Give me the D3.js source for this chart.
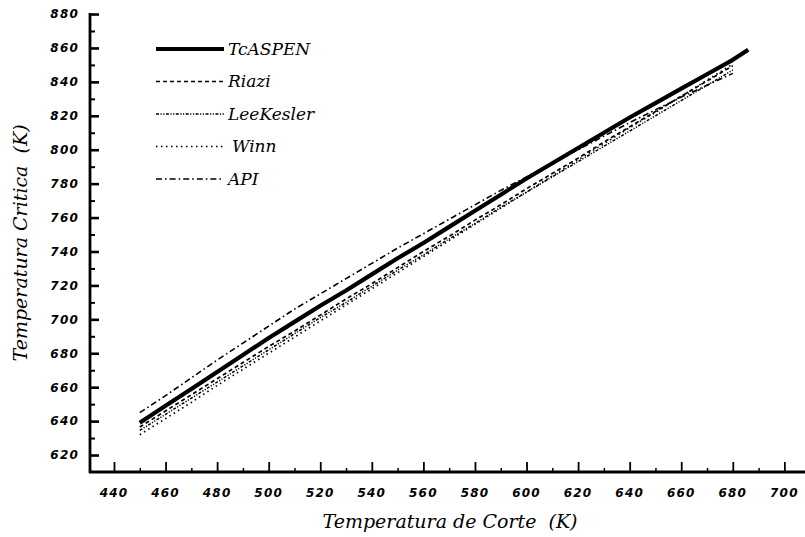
<!DOCTYPE html>
<html>
<head>
<meta charset="utf-8">
<script src="https://cdn.jsdelivr.net/npm/d3@7"></script>
<style>
  html, body { margin: 0; padding: 0; background: #fff; }
  svg { display: block; }
  .tick-label { font-family: "DejaVu Sans", sans-serif; font-weight: bold; font-style: italic; font-size: 12px; letter-spacing: 1.2px; }
  .title { font-family: "DejaVu Serif", serif; font-style: italic; font-size: 19px; white-space: pre; }
  .legend-text { font-family: "DejaVu Serif", serif; font-style: italic; font-size: 17px; }
</style>
</head>
<body>
<svg id="chart" width="805" height="537"></svg>
<script>
// Cut point temperature (K)
const cutTemps = [450, 460, 470, 480, 490, 500, 510, 520, 530, 540, 550, 560,
                  570, 580, 590, 600, 610, 620, 630, 640, 650, 660, 670, 680];
const aspenTemps = cutTemps.concat([686]);

// Critical temperature (K) by method
const tcAspen = [639, 649, 659, 669, 679, 689, 698.5, 708, 717, 726.5, 736, 745,
                 754.5, 764, 773.5, 783, 792, 801, 810, 819, 827.5, 836, 844.5, 853, 859];
const riazi = [636.5, 646, 655.5, 665, 674.5, 684, 693, 702.5, 712, 721, 730.5, 740,
               749, 758.5, 767.5, 777, 786, 795, 804.5, 813.5, 822.5, 831.5, 840.5, 849.5];
const leeKesler = [634.5, 644, 653.5, 663, 672.5, 682, 691.5, 701, 710, 719.5, 729, 738,
                   747.5, 756.5, 766, 775, 784, 793, 802, 811, 820, 829, 838, 847];
const winn = [632, 641.5, 651, 661, 670.5, 680, 689.5, 699, 708.5, 718, 727.5, 737,
              746.5, 756, 765.5, 775, 784.5, 794, 803.5, 813, 822, 831.5, 841, 850.5];
const api = [645, 655, 665.5, 676, 686, 696, 706, 715, 724, 733, 742, 750.5,
             759, 767.5, 776, 784, 792, 800, 808, 816, 823.5, 831, 838, 845];

const xTicks = [440, 460, 480, 500, 520, 540, 560, 580, 600, 620, 640, 660, 680, 700];
const yTicks = [620, 640, 660, 680, 700, 720, 740, 760, 780, 800, 820, 840, 860, 880];

const seriesNames = ["TcASPEN", "Riazi", "LeeKesler", "Winn", "API"];

const svg = d3.select("#chart");

const x = d3.scaleLinear().domain([430.7, 708]).range([90, 805]);
const y = d3.scaleLinear().domain([610, 880.6]).range([472, 13]);

const series = [
  { name: seriesNames[0], xs: aspenTemps, ys: tcAspen, width: 4.2, dash: null },
  { name: seriesNames[1], xs: cutTemps, ys: riazi, width: 1.7, dash: "4,3" },
  { name: seriesNames[2], xs: cutTemps, ys: leeKesler, width: 1.5, dash: "3,1.5,1.2,1.5,1.2,1.5" },
  { name: seriesNames[3], xs: cutTemps, ys: winn, width: 1.7, dash: "1.5,3.5" },
  { name: seriesNames[4], xs: cutTemps, ys: api, width: 1.6, dash: "6,3,1.6,3" }
];

const line = d3.line().x(d => x(d[0])).y(d => y(d[1]));

// data lines
series.forEach(s => {
  svg.append("path")
    .datum(s.xs.map((v, i) => [v, s.ys[i]]))
    .attr("d", line)
    .attr("fill", "none")
    .attr("stroke", "#000")
    .attr("stroke-width", s.width)
    .attr("stroke-dasharray", s.dash)
    .attr("stroke-linejoin", "round");
});

// minor ticks every 10 K
const xMinor = d3.range(450, 700, 20);
const yMinor = d3.range(630, 880, 20);

const axes = svg.append("g");

// y axis
const yAxis = d3.axisRight(y).tickValues(yTicks).tickSize(9).tickFormat("");
const gy = axes.append("g").attr("transform", "translate(90,0)").call(yAxis);
gy.select(".domain").remove();
gy.selectAll(".tick line").attr("stroke-width", 2.6);
const yAxisMinor = d3.axisRight(y).tickValues(yMinor).tickSize(5).tickFormat("");
const gym = axes.append("g").attr("transform", "translate(90,0)").call(yAxisMinor);
gym.select(".domain").remove();
gym.selectAll(".tick line").attr("stroke-width", 2);

// x axis
const xAxis = d3.axisTop(x).tickValues(xTicks).tickSize(10).tickFormat("");
const gx = axes.append("g").attr("transform", "translate(0,472)").call(xAxis);
gx.select(".domain").remove();
gx.selectAll(".tick line").attr("stroke-width", 1.8);
const xAxisMinor = d3.axisTop(x).tickValues(xMinor).tickSize(4).tickFormat("");
const gxm = axes.append("g").attr("transform", "translate(0,472)").call(xAxisMinor);
gxm.select(".domain").remove();
gxm.selectAll(".tick line").attr("stroke-width", 1.5);

// axis lines
axes.append("line").attr("x1", 90).attr("x2", 90).attr("y1", y(880) - 1).attr("y2", 473)
  .attr("stroke", "#000").attr("stroke-width", 2.8);
axes.append("line").attr("x1", 89).attr("x2", 805).attr("y1", 472).attr("y2", 472)
  .attr("stroke", "#000").attr("stroke-width", 2.8);

// tick labels
svg.append("g").selectAll("text").data(yTicks).join("text")
  .attr("class", "tick-label").attr("fill", "#000")
  .attr("x", 79).attr("y", d => y(d)).attr("dy", "0.36em")
  .attr("text-anchor", "end")
  .text(d => d);

svg.append("g").selectAll("text").data(xTicks).join("text")
  .attr("class", "tick-label").attr("fill", "#000")
  .attr("x", d => x(d)).attr("y", 497)
  .attr("text-anchor", "middle")
  .text(d => d);

// axis titles
svg.append("text").attr("class", "title").attr("fill", "#000")
  .attr("x", 450).attr("y", 528).attr("text-anchor", "middle")
  .text("Temperatura de Corte  (K)");
svg.append("text").attr("class", "title").attr("fill", "#000")
  .attr("transform", "translate(27,243) rotate(-90)")
  .attr("text-anchor", "middle")
  .text("Temperatura Critica  (K)");

// legend
const legend = svg.append("g");
series.forEach((s, i) => {
  const ly = 49 + i * 32.5;
  legend.append("line")
    .attr("x1", 156).attr("x2", 224).attr("y1", ly).attr("y2", ly)
    .attr("stroke", "#000").attr("stroke-width", s.width)
    .attr("stroke-dasharray", s.dash);
  legend.append("text").attr("class", "legend-text").attr("fill", "#000")
    .attr("x", i === 3 ? 232 : 228).attr("y", ly).attr("dy", "0.33em")
    .text(s.name);
});
</script>
</body>
</html>
